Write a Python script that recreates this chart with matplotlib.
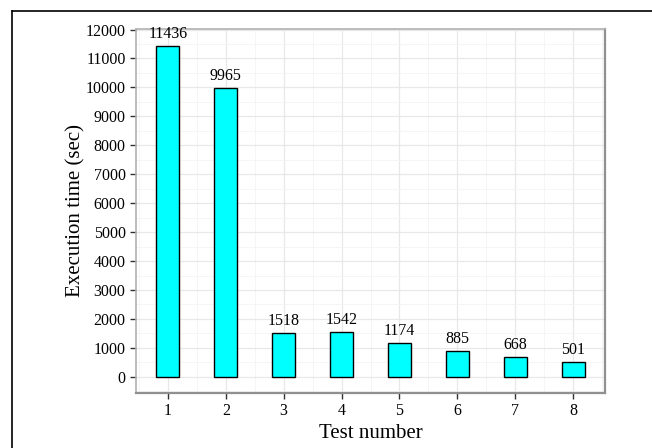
import matplotlib
matplotlib.use("Agg")
import matplotlib.pyplot as plt
from matplotlib.lines import Line2D
from matplotlib.ticker import MultipleLocator

tests = [1, 2, 3, 4, 5, 6, 7, 8]
times = [11436, 9965, 1518, 1542, 1174, 885, 668, 501]
yticks = list(range(0, 12001, 1000))

plt.rcParams['font.family'] = ['Liberation Serif', 'DejaVu Serif']

fig = plt.figure(figsize=(6.52, 4.48), dpi=100)
ax = fig.add_axes([0.2086, 0.1228, 0.7194, 0.8125])

ax.bar(tests, times, width=0.4, color='cyan', edgecolor='black', linewidth=1, zorder=3)
for t, v in zip(tests, times):
    ax.annotate(str(v), (t, v), xytext=(0, 3), textcoords='offset points',
                ha='center', va='bottom', fontsize=11.5, zorder=4)

ax.set_xlim(0.45, 8.55)
ax.set_ylim(-560, 12020)
ax.set_xticks(tests)
ax.set_yticks(yticks)
ax.xaxis.set_minor_locator(MultipleLocator(0.5))
ax.yaxis.set_minor_locator(MultipleLocator(500))
ax.grid(which='major', color='#e8e8e8', linewidth=0.9, zorder=0)
ax.grid(which='minor', color='#f4f4f4', linewidth=0.6, zorder=0)
ax.tick_params(which='minor', length=0)
ax.tick_params(which='major', length=4, width=1, color='#333333', labelsize=11.5)

for side in ['top', 'left']:
    ax.spines[side].set_color('#b0b0b0')
    ax.spines[side].set_linewidth(1.2)
for side in ['right', 'bottom']:
    ax.spines[side].set_color('#909090')
    ax.spines[side].set_linewidth(1.6)

ax.set_xlabel('Test number', fontsize=15, labelpad=3)
ax.set_ylabel('Execution time (sec)', fontsize=15, labelpad=0)

# outer frame fragment
fig.add_artist(Line2D([0.0184, 1.0], [0.9754, 0.9754], color='black', linewidth=1.2))
fig.add_artist(Line2D([0.0184, 0.0184], [0.0, 0.9754], color='black', linewidth=1.2))

fig.savefig('out.png', dpi=100)
